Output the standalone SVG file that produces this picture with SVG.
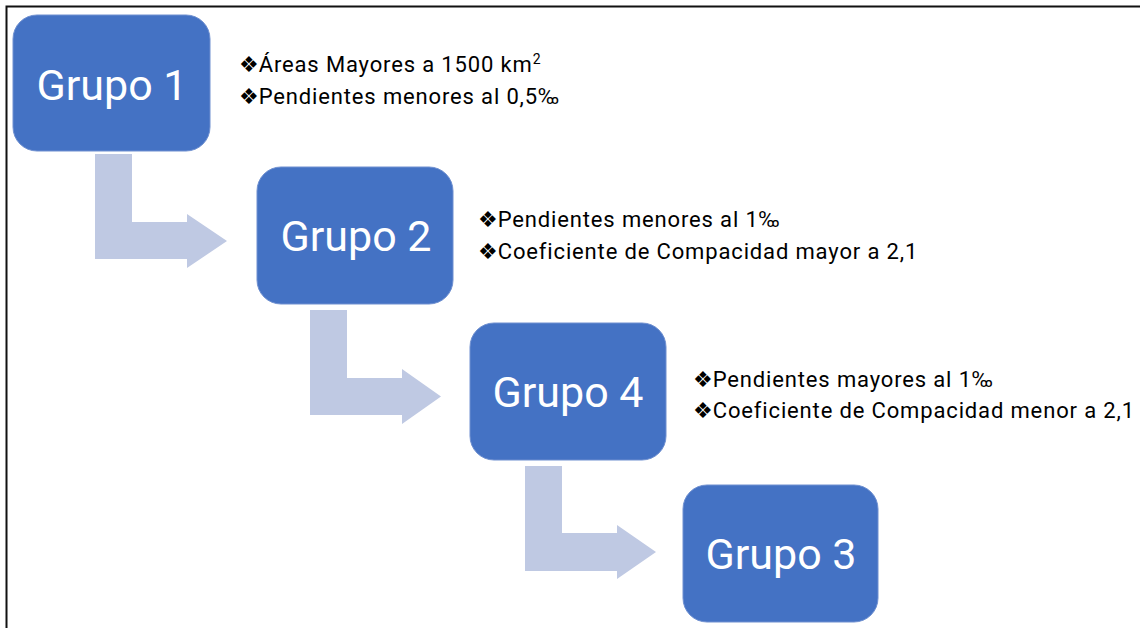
<svg xmlns="http://www.w3.org/2000/svg" width="1140" height="628" viewBox="0 0 1140 628">
<style>
.box{fill:#4472C4;stroke:#6E8FD0;stroke-width:1}
.arr{fill:#BFC9E3}
.t{font-family:Roboto,"Liberation Sans",sans-serif;font-size:43px;fill:#ffffff;text-anchor:middle}
.b{font-family:Roboto,"Liberation Sans",sans-serif;font-size:22px;letter-spacing:0.85px;fill:#000000}
.d{font-family:"DejaVu Sans",sans-serif;font-size:22px;letter-spacing:0}
</style>
<rect x="0" y="0" width="1140" height="628" fill="#ffffff"/>
<path d="M6.5 628 V6.5 H1140" fill="none" stroke="#111111" stroke-width="2"/>
<g id="connectors">
<path class="arr" d="M95 154 H132 V222 H187 V214 L227 241 L187 268 V259 H95 Z"/>
<path class="arr" d="M310 310 H347 V378 H402 V369 L441 396.5 L402 424 V415 H310 Z"/>
<path class="arr" d="M525 466 H562 V533 H617 V525 L656 552 L617 579 V571 H525 Z"/>
</g>
<g id="grupo1">
<rect class="box" x="13" y="15" width="197" height="136" rx="24"/>
<text class="t" x="112" y="100">Grupo 1</text>
</g>
<g id="grupo2">
<rect class="box" x="257" y="167" width="196" height="137" rx="24"/>
<text class="t" x="356" y="251">Grupo 2</text>
</g>
<g id="grupo4">
<rect class="box" x="470" y="323" width="196" height="137" rx="24"/>
<text class="t" x="568" y="407">Grupo 4</text>
</g>
<g id="grupo3">
<rect class="box" x="683" y="485" width="195" height="137" rx="24"/>
<text class="t" x="781" y="569">Grupo 3</text>
</g>
<g id="notes1">
<text class="b" x="239" y="72"><tspan class="d">❖</tspan>Áreas Mayores a 1500 km<tspan font-size="14" dy="-8">2</tspan></text>
<text class="b" x="239" y="104"><tspan class="d">❖</tspan>Pendientes menores al 0,5‰</text>
</g>
<g id="notes2">
<text class="b" x="478" y="227"><tspan class="d">❖</tspan>Pendientes menores al 1‰</text>
<text class="b" x="478" y="259"><tspan class="d">❖</tspan>Coeficiente de Compacidad mayor a 2,1</text>
</g>
<g id="notes4">
<text class="b" x="693" y="387"><tspan class="d">❖</tspan>Pendientes mayores al 1‰</text>
<text class="b" x="693" y="418"><tspan class="d">❖</tspan>Coeficiente de Compacidad menor a 2,1</text>
</g>
</svg>
